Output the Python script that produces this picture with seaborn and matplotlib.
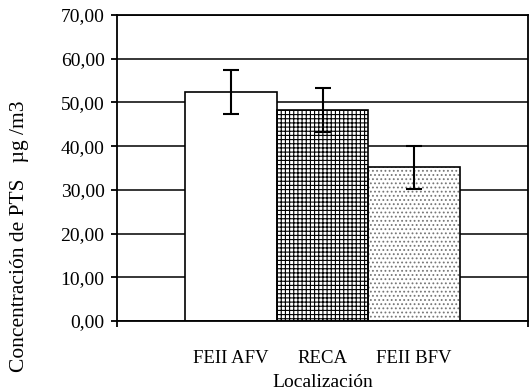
import matplotlib
matplotlib.use("Agg")
import matplotlib.pyplot as plt
import seaborn as sns
import pandas as pd
import numpy as np

categories = ["FEII AFV", "RECA", "FEII BFV"]
values = [52.4, 48.2, 35.2]
errors = [5.1, 5.0, 4.9]
yticks = [0, 10, 20, 30, 40, 50, 60, 70]
hatches = ["", "++++", "...."]
hatch_colors = ["black", "black", "#777777"]

sns.set_theme(style="white")
plt.rcParams["font.family"] = ["Liberation Serif", "DejaVu Serif"]
plt.rcParams["hatch.linewidth"] = 0.8

df = pd.DataFrame({"loc": categories, "val": values})

fig = plt.figure(figsize=(5.30, 3.92), dpi=100)
ax = fig.add_axes([0.2208, 0.1811, 0.7754, 0.7806])

# hatched fills
sns.barplot(data=df, x="loc", y="val", order=categories, color="white",
            width=1.0, errorbar=None, ax=ax, zorder=2, saturation=1)
for p, h, hc in zip(ax.patches, hatches, hatch_colors):
    p.set_facecolor("white")
    p.set_edgecolor(hc)
    p.set_linewidth(0)
    p.set_hatch(h)
# outlines
sns.barplot(data=df, x="loc", y="val", order=categories, fill=False,
            width=1.0, errorbar=None, ax=ax, zorder=3, edgecolor="black",
            linewidth=1.2)

ax.errorbar(np.arange(len(categories)), values, yerr=errors, fmt="none",
            ecolor="black", elinewidth=1.5, capsize=5.5, capthick=1.5, zorder=4)

ax.set_ylim(0, 70)
ax.set_xlim(1 - 2.245, 1 + 2.245)
ax.set_yticks(yticks)
ax.set_yticklabels([f"{v:.2f}".replace(".", ",") for v in yticks], fontsize=14)
ax.yaxis.grid(True, color="black", linewidth=1.1, zorder=0)
ax.set_axisbelow(True)
ax.tick_params(axis="y", direction="out", length=4, width=1.3, color="black",
               left=True, pad=5, labelcolor="black")
ax.tick_params(axis="x", length=0, pad=21, labelsize=13.5, labelcolor="black")
ax.set_xticks([0, 1, 2])
ax.set_xticklabels(categories)
ax.set_xticks([1 - 2.245, 1 + 2.245], minor=True)
ax.tick_params(axis="x", which="minor", direction="out", length=4, width=1.3,
               color="black", bottom=True)
for s in ax.spines.values():
    s.set_color("black")
    s.set_linewidth(1.3)
ax.set_xlabel("Localización", fontsize=14, labelpad=5, color="black")
ax.set_ylabel("")
fig.text(0.036, 0.398, "Concentración de PTS   µg /m3", rotation=90,
         ha="center", va="center", fontsize=15.5, color="black")

fig.savefig("out.png", dpi=100)
